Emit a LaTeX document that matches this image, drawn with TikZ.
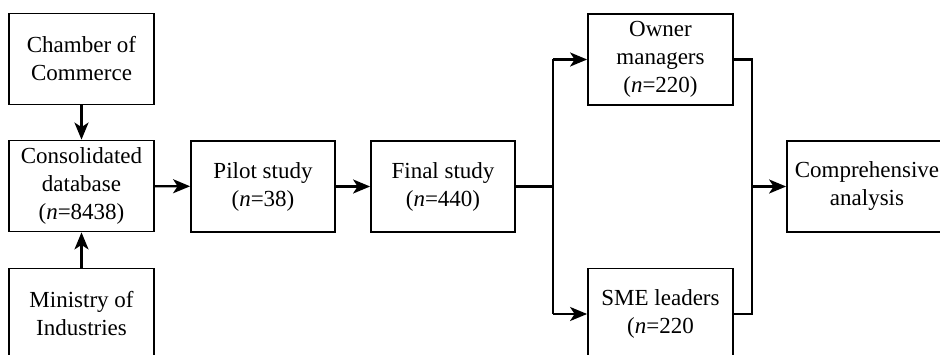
\documentclass[tikz,border=0pt]{standalone}
\usepackage{fontspec}
\setmainfont{Liberation Serif}
\usetikzlibrary{arrows.meta,calc}
\begin{document}
\begin{tikzpicture}[x=1pt,y=1pt,
  box/.style={draw, line width=1.8pt, align=center, inner sep=0pt,
    minimum width=145pt, minimum height=91pt,
    font=\fontsize{23}{28}\selectfont},
  link/.style={line width=2.2pt},
  flow/.style={link, -{Stealth[length=17pt,width=14pt,inset=4.5pt]}}]
  \path[use as bounding box, clip] (0,0) rectangle (940,355);
  \fill[white] (0,0) rectangle (940,355);

  % sources and database
  \node[box] (chamber)  at (81.5,296)   {Chamber of\\Commerce};
  \node[box] (cons)     at (81.5,169)   {Consolidated\\database\\(\textit{n}=8438)};
  \node[box] (ministry) at (81.5,41)    {Ministry of\\Industries};

  % study stages
  \node[box, minimum width=144pt] (pilot) at (263,168.5) {Pilot study\\(\textit{n}=38)};
  \node[box, minimum width=144pt] (final) at (443,168.5) {Final study\\(\textit{n}=440)};

  % respondent groups
  \node[box] (owner) at (660.5,295.5) {Owner\\managers\\(\textit{n}=220)};
  \node[box] (sme)   at (660.5,41)    {SME leaders\\(\textit{n}=220};

  % analysis
  \node[box, minimum width=160pt] (comp) at (867,168.5) {Comprehensive\\analysis};

  % connectors
  \draw[flow] (chamber) -- (cons);
  \draw[flow] (ministry) -- (cons);
  \draw[flow] (cons) -- (pilot);
  \draw[flow] (pilot) -- (final);

  \draw[link] (final.east) -- ++(37,0) coordinate (split);
  \draw[link] (split |- owner.west) -- (split |- sme.west);
  \draw[flow] (split |- owner.west) -- (owner.west);
  \draw[flow] (split |- sme.west) -- (sme.west);

  \coordinate (join) at ($(owner.east)+(18,0)$);
  \draw[link] (owner.east) -- (join) -- (join |- comp.west);
  \draw[link] (sme.east) -- (join |- sme.east) -- (join |- comp.west);
  \draw[flow] (join |- comp.west) -- (comp.west);
\end{tikzpicture}
\end{document}
